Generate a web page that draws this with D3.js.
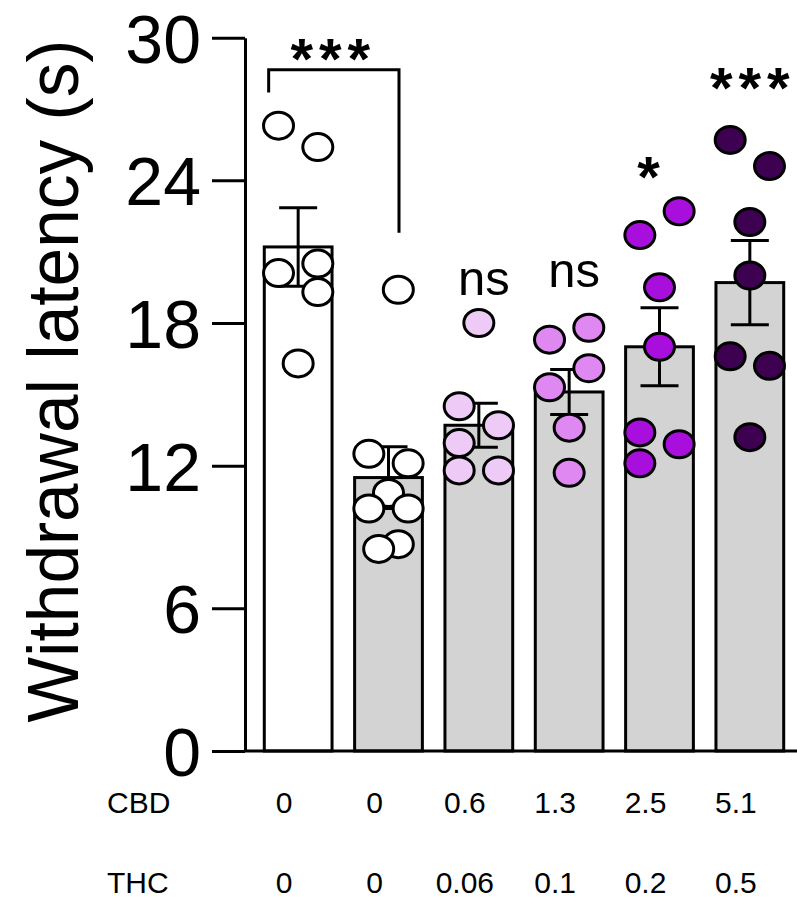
<!DOCTYPE html>
<html>
<head>
<meta charset="utf-8">
<script src="https://cdn.jsdelivr.net/npm/d3@7"></script>
<style>
  body { margin: 0; background: #fff; }
  text { font-family: "Liberation Sans", Arial, sans-serif; }
</style>
</head>
<body>
<div id="chart"></div>
<script>
// Groups (CBD / THC doses) and summary values.
let groups = ["g1", "g2", "g3", "g4", "g5", "g6"];
let cbdLabels = ["0", "0", "0.6", "1.3", "2.5", "5.1"];
let thcLabels = ["0", "0", "0.06", "0.1", "0.2", "0.5"];
let means = [21.2, 11.5, 13.7, 15.1, 17.0, 19.7];
let sems = [1.65, 1.3, 0.93, 0.95, 1.64, 1.77];
let barFills = ["#ffffff", "#d3d3d3", "#d3d3d3", "#d3d3d3", "#d3d3d3", "#d3d3d3"];
let dotFills = ["#ffffff", "#ffffff", "#eecbf6", "#df88f2", "#a80edc", "#3e0051"];
let yTicks = [0, 6, 12, 18, 24, 30];

// Individual animals: value and column slot (-1 left, 0 middle, 1 right).
let points = [
  [[26.3, -1], [25.4, 1], [20.1, -1], [20.5, 1], [19.3, 1], [16.3, 0]],
  [[19.4, 0.5], [12.5, -1], [12.1, 1], [10.85, 0], [10.2, -1], [10.2, 1], [8.7, 0.5], [8.5, -0.5]],
  [[18.0, 0], [14.5, -1], [13.7, 1], [12.95, -1], [11.8, -1], [11.8, 1]],
  [[17.8, 1], [17.3, -1], [16.1, 1], [15.3, -1], [13.6, 0], [11.7, 0]],
  [[22.7, 1], [21.7, -1], [19.5, 0], [17.0, 0], [13.4, -1], [12.9, 1], [12.1, -1]],
  [[25.7, -1], [24.6, 1], [22.25, 0], [20.0, 0], [16.6, -1], [16.2, 1], [13.2, 0]]
];
let sigLabels = ["", "", "ns", "ns", "*", "***"];

let width = 797, height = 898;

let svg = d3.select("#chart")
            .append("svg")
            .attr("width", width)
            .attr("height", height);

let x = d3.scaleBand()
          .domain(groups)
          .range([253, 795])
          .paddingInner(0.25)
          .paddingOuter(0.125);

let y = d3.scaleLinear()
          .domain([0, 30])
          .range([751, 37.7]);

let slot = x.bandwidth() * 0.29;
let cx = function(i) { return x(groups[i]) + x.bandwidth() / 2; };

// Y axis.
let yAxis = svg.append("g")
   .attr("transform", "translate(245,0)")
   .call(d3.axisLeft(y).tickValues(yTicks).tickSize(33).tickSizeOuter(0).tickPadding(11));
yAxis.select(".domain").attr("stroke", "#000").attr("stroke-width", 3);
yAxis.selectAll(".tick line").attr("stroke", "#000").attr("stroke-width", 3);
yAxis.selectAll(".tick text")
     .attr("fill", "#000")
     .style("font-size", "68px")
     .attr("dy", "0.36em");

// Y label.
svg.append("text")
   .attr("transform", "rotate(-90)")
   .attr("x", -381)
   .attr("y", 78)
   .attr("text-anchor", "middle")
   .attr("textLength", 683)
   .attr("lengthAdjust", "spacingAndGlyphs")
   .style("font-size", "73px")
   .text("Withdrawal latency (s)");

// Bars.
svg.append("g")
   .selectAll("rect")
   .data(means)
   .enter()
   .append("rect")
   .attr("x", function(d, i) { return x(groups[i]); })
   .attr("y", function(d) { return y(d); })
   .attr("width", x.bandwidth())
   .attr("height", function(d) { return y(0) - y(d); })
   .attr("fill", function(d, i) { return barFills[i]; })
   .attr("stroke", "#000")
   .attr("stroke-width", 3);

// X axis line.
svg.append("line")
   .attr("x1", 244).attr("x2", width)
   .attr("y1", y(0)).attr("y2", y(0))
   .attr("stroke", "#000")
   .attr("stroke-width", 3);

// Error bars (mean +/- SEM).
let eb = svg.append("g").attr("stroke", "#000").attr("stroke-width", 3);
means.forEach(function(m, i) {
    let c = cx(i), hi = y(m + sems[i]), lo = y(m - sems[i]);
    eb.append("line").attr("x1", c).attr("x2", c).attr("y1", hi).attr("y2", lo);
    eb.append("line").attr("x1", c - 19).attr("x2", c + 19).attr("y1", hi).attr("y2", hi);
    eb.append("line").attr("x1", c - 19).attr("x2", c + 19).attr("y1", lo).attr("y2", lo);
});

// Points.
points.forEach(function(pts, i) {
    svg.append("g")
       .selectAll("ellipse")
       .data(pts)
       .enter()
       .append("ellipse")
       .attr("cx", function(d) { return cx(i) + d[1] * slot; })
       .attr("cy", function(d) { return y(d[0]); })
       .attr("rx", 15)
       .attr("ry", 13.5)
       .attr("fill", dotFills[i])
       .attr("stroke", "#000")
       .attr("stroke-width", 3);
});

// Bracket between the first two groups.
svg.append("path")
   .attr("d", "M" + (cx(0) - 29.5) + "," + y(27.7) +
              "V" + y(28.65) +
              "H" + (cx(1) + 10.5) +
              "V" + y(21.8))
   .attr("fill", "none")
   .attr("stroke", "#000")
   .attr("stroke-width", 3);

svg.append("text")
   .attr("x", (cx(0) + cx(1)) / 2 - 10)
   .attr("y", 79)
   .attr("text-anchor", "middle")
   .style("font-size", "58px")
   .style("font-weight", "bold")
   .style("letter-spacing", "6px")
   .text("***");

// Significance labels over the dosed groups.
let sigY = [0, 0, 295, 287, 197, 108];
sigLabels.forEach(function(s, i) {
    if (!s) return;
    let star = s.indexOf("*") >= 0;
    svg.append("text")
       .attr("x", cx(i) + (star ? (s.length > 1 ? 3 : -8) : 5))
       .attr("y", sigY[i])
       .attr("text-anchor", "middle")
       .style("font-size", star ? "58px" : "49px")
       .style("font-weight", star ? "bold" : "normal")
       .style("letter-spacing", star ? "6px" : "0px")
       .text(s);
});

// Dose rows.
svg.append("text").attr("x", 107).attr("y", 813).style("font-size", "30px").text("CBD");
svg.append("text").attr("x", 107).attr("y", 893).style("font-size", "30px").text("THC");

svg.append("g")
   .selectAll("text")
   .data(cbdLabels)
   .enter()
   .append("text")
   .attr("x", function(d, i) { return cx(i) - 14; })
   .attr("y", 813)
   .attr("text-anchor", "middle")
   .style("font-size", "30px")
   .text(function(d) { return d; });

svg.append("g")
   .selectAll("text")
   .data(thcLabels)
   .enter()
   .append("text")
   .attr("x", function(d, i) { return cx(i) - 14; })
   .attr("y", 893)
   .attr("text-anchor", "middle")
   .style("font-size", "30px")
   .text(function(d) { return d; });
</script>
</body>
</html>
